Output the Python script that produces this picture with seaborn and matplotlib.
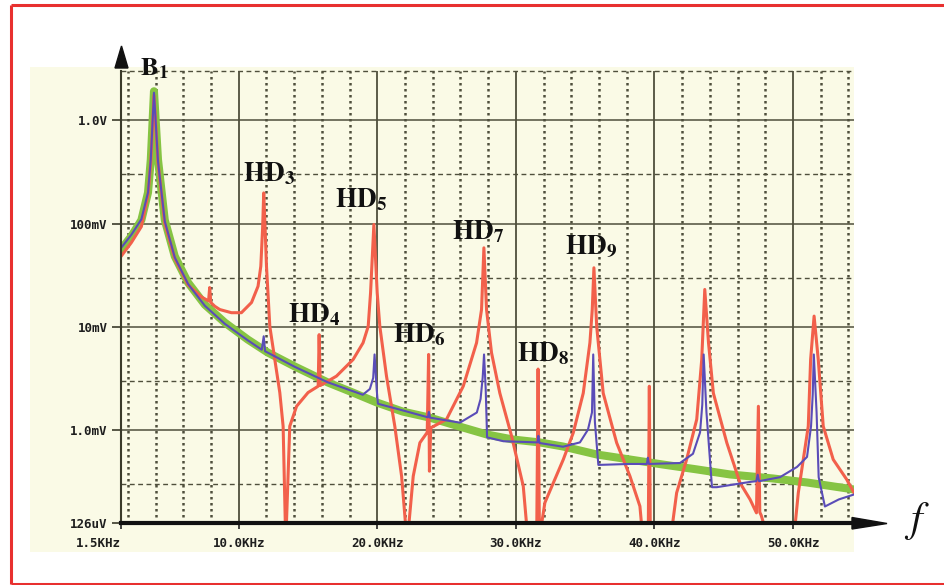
import matplotlib
matplotlib.use("Agg")
import matplotlib.pyplot as plt
import seaborn as sns
from matplotlib.patches import Rectangle, Polygon
from matplotlib.lines import Line2D
from matplotlib.ticker import NullLocator

# Spectrum (frequency in kHz, amplitude in V)
green_khz = [1.5, 2.25, 2.97, 3.45, 3.65, 3.88, 4.17, 4.66, 5.38, 6.34, 7.55, 8.99,
             10.65, 12.09, 14.04, 16.43, 18.23, 19.96, 21.84, 23.79, 25.96, 27.91,
             29.78, 31.73, 33.39, 35.85, 38.23, 40.61, 43.07, 45.45, 48.56, 51.01, 54.4]
green_v = [0.056, 0.0754, 0.108, 0.20, 0.417, 1.91, 0.417, 0.108, 0.0482, 0.0268,
           0.0164, 0.0110, 0.00753, 0.00564, 0.00413, 0.00289, 0.00231, 0.00185,
           0.00151, 0.00132, 0.00108, 0.000906, 0.000811, 0.000759, 0.000694,
           0.000580, 0.000519, 0.000464, 0.000416, 0.000372, 0.000340, 0.000311,
           0.000266]

blue_khz = [1.5, 2.25, 2.97, 3.45, 3.65, 3.88, 4.17, 4.66, 5.38, 6.34, 7.55, 8.99,
            10.65, 11.66, 11.8, 11.9, 14.04, 16.43, 18.95, 19.46, 19.7, 19.8, 19.95,
            20.04, 21.84, 23.65, 23.72, 23.8, 25.96, 27.18, 27.45, 27.6, 27.7, 27.82,
            27.92, 29.1, 31.55, 31.62, 31.7, 33.4, 34.62, 35.2, 35.49, 35.58, 35.7,
            35.95, 38.2, 39.45, 39.52, 39.6, 41.84, 42.78, 43.29, 43.45, 43.55, 43.75,
            44.15, 44.5, 46.9, 47.35, 47.45, 47.55, 49.06, 50.29, 51.01, 51.3, 51.42,
            51.5, 51.7, 51.85, 52.3, 53.3, 54.4]
blue_v = [0.058, 0.078, 0.11, 0.20, 0.42, 1.85, 0.40, 0.105, 0.047, 0.026, 0.016,
          0.0107, 0.0074, 0.0060, 0.0081, 0.0058, 0.0041, 0.0029, 0.0022, 0.0025,
          0.0032, 0.0054, 0.0025, 0.0018, 0.00155, 0.00133, 0.0015, 0.00132, 0.00118,
          0.00148, 0.0020, 0.0032, 0.0054, 0.0025, 0.00085, 0.00078, 0.00076, 0.00088,
          0.00075, 0.00069, 0.00076, 0.00101, 0.00148, 0.0054, 0.0012, 0.00046,
          0.00047, 0.00047, 0.00054, 0.00047, 0.00048, 0.00059, 0.00095, 0.00176,
          0.0054, 0.0015, 0.00028, 0.00028, 0.000315, 0.00032, 0.00037, 0.00032,
          0.00035, 0.00044, 0.00055, 0.00109, 0.0022, 0.0054, 0.00148, 0.00035,
          0.000182, 0.000213, 0.000238]

red_khz = [1.5, 2.25, 2.97, 3.45, 3.65, 3.88, 4.17, 4.66, 5.38, 6.34, 7.3, 7.82, 7.9,
           7.98, 8.27, 8.63, 9.47, 10.19, 10.92, 11.39, 11.59, 11.72, 11.8, 11.9, 12.0,
           12.24, 12.6, 12.96, 13.2, 13.39, 13.68, 14.17, 15.0, 15.73, 15.8, 15.88,
           17.05, 18.25, 18.97, 19.34, 19.51, 19.75, 19.99, 20.18, 20.66, 21.26, 21.75,
           22.15, 22.59, 23.07, 23.6, 23.7, 23.76, 23.85, 24.99, 26.2, 27.16, 27.52,
           27.69, 27.88, 28.24, 28.84, 29.69, 30.53, 30.89, 31.5, 31.6, 31.7, 32.09,
           33.42, 34.14, 34.86, 35.34, 35.51, 35.63, 35.83, 36.3, 37.27, 38.23, 38.95,
           39.19, 39.55, 39.63, 39.7, 41.12, 41.6, 42.32, 43.05, 43.41, 43.63, 43.9,
           44.25, 45.22, 46.17, 46.9, 47.36, 47.5, 47.6, 47.7, 48.3, 50.02, 50.38,
           50.74, 51.1, 51.27, 51.52, 51.82, 52.18, 52.9, 53.87, 54.4]
red_v = [0.048, 0.0655, 0.0935, 0.19, 0.40, 1.75, 0.39, 0.10, 0.046, 0.0255, 0.0195,
         0.0178, 0.024, 0.0172, 0.0158, 0.0147, 0.0137, 0.0137, 0.0172, 0.0247, 0.0386,
         0.09, 0.198, 0.09, 0.0386, 0.0101, 0.00482, 0.00231, 0.00109, 0.00008,
         0.00109, 0.0017, 0.00231, 0.00266, 0.0084, 0.0027, 0.00333, 0.00482, 0.0070,
         0.0101, 0.0213, 0.098, 0.0213, 0.0101, 0.00333, 0.00109, 0.000358, 0.00008,
         0.000358, 0.000754, 0.00095, 0.0054, 0.0004, 0.00105, 0.00127, 0.00266,
         0.0070, 0.0147, 0.0582, 0.0147, 0.00561, 0.00228, 0.000873, 0.000287,
         0.00008, 0.00009, 0.0039, 0.00009, 0.000198, 0.000519, 0.000942, 0.00228,
         0.0070, 0.0147, 0.0373, 0.0101, 0.00228, 0.000754, 0.000358, 0.000183,
         0.00008, 0.00009, 0.00266, 0.00009, 0.00008, 0.000247, 0.000519, 0.00127,
         0.00482, 0.023, 0.0070, 0.00228, 0.000754, 0.000309, 0.000213, 0.000158,
         0.0017, 0.00016, 0.00015, 0.00008, 0.00008, 0.000247, 0.000519, 0.00109,
         0.00482, 0.0127, 0.00482, 0.00109, 0.000519, 0.000333, 0.000247]

x_ticks = [1.5, 10, 20, 30, 40, 50]
x_tick_labels = ["1.5KHz", "10.0KHz", "20.0KHz", "30.0KHz", "40.0KHz", "50.0KHz"]
y_ticks = [1.0, 0.1, 0.01, 0.001, 126e-6]
y_tick_labels = ["1.0V", "100mV", "10mV", "1.0mV", "126uV"]

sns.set_style("white")
plt.rcParams["mathtext.fontset"] = "stix"

W, H = 945, 585


def P(x, y):
    # pixel position (from top-left) -> figure fraction
    return (x / W, 1 - y / H)


fig = plt.figure(figsize=(W / 100, H / 100), dpi=100)
fig.patch.set_facecolor("white")
fig.patches.append(Rectangle((30 / W, 33 / H), 824 / W, 485 / H, transform=fig.transFigure,
                             facecolor="#fafae6", edgecolor="none", zorder=-10))

# red frame (open on the right, as in the source picture)
frame_col = "#e8302f"
for xs, ys in [((11, 11), (4.5, 584)), ((11, 945), (4.5, 4.5)), ((11, 945), (583.5, 583.5))]:
    fig.lines.append(Line2D([xs[0] / W, xs[1] / W], [1 - ys[0] / H, 1 - ys[1] / H],
                            transform=fig.transFigure, color=frame_col, lw=2.2,
                            solid_capstyle="butt"))

ax = fig.add_axes([121 / W, 62 / H, 733 / W, 452 / H])
ax.set_facecolor("#fafae6")

# grid
grid_col = "#4f4f3c"
for v in [1.0, 0.1, 0.01, 0.001]:
    ax.axhline(v, color=grid_col, lw=1.1, zorder=1)
for v in [3.0, 0.3, 0.03, 0.003, 0.0003]:
    ax.axhline(v, color=grid_col, lw=1.0, ls=(0, (3.5, 2.5)), zorder=1, clip_on=False)
for k in range(2, 56, 2):
    if k % 10 == 0:
        ax.axvline(k, color=grid_col, lw=1.3, zorder=1)
    else:
        ax.axvline(k, color=grid_col, lw=1.8, ls=(0, (1, 1.4)), zorder=1)

sns.lineplot(x=green_khz, y=green_v, ax=ax, color="#86c443", lw=5.8, sort=False,
             estimator=None, zorder=2)
sns.lineplot(x=red_khz, y=red_v, ax=ax, color="#f2604b", lw=2.2, sort=False,
             estimator=None, zorder=3)
sns.lineplot(x=blue_khz, y=blue_v, ax=ax, color="#5a4cb8", lw=1.5, sort=False,
             estimator=None, zorder=4)

ax.set_yscale("log")
ax.set_xlim(1.5, 54.4)
ax.set_ylim(126e-6, 3.0)
ax.set_xticks(x_ticks, x_tick_labels)
ax.set_yticks(y_ticks, y_tick_labels)
ax.yaxis.set_minor_locator(NullLocator())
ax.xaxis.set_minor_locator(NullLocator())
ax.set_xlabel("")
ax.set_ylabel("")

for lbl in ax.get_xticklabels() + ax.get_yticklabels():
    lbl.set_fontfamily("DejaVu Sans Mono")
    lbl.set_fontweight("bold")
    lbl.set_fontsize(9)
    lbl.set_color("#1e1e1e")
ax.get_xticklabels()[0].set_ha("right")

ax.tick_params(axis="x", length=4, width=1.2, pad=6, color="#222222", bottom=True)
ax.tick_params(axis="y", length=6.5, width=1.2, pad=3, color="#3a3a2a", left=True)

for s in ["top", "right"]:
    ax.spines[s].set_visible(False)
ax.spines["left"].set_color("#3a3a2a")
ax.spines["left"].set_linewidth(1.5)
ax.spines["bottom"].set_color("#111111")
ax.spines["bottom"].set_linewidth(3)
ax.spines["left"].set_zorder(5)
ax.spines["bottom"].set_zorder(5)

# axis arrows
fig.patches.append(Polygon([P(115, 68), P(128, 68), P(121.5, 46)], closed=True,
                           transform=fig.transFigure, color="#111111"))
fig.patches.append(Polygon([P(852, 517.5), P(887, 523.5), P(852, 529)], closed=True,
                           transform=fig.transFigure, color="#111111"))

# annotations
fig.text(*P(140, 75), r"$\mathbf{B_1}$", size=19, ha="left", va="baseline", color="#111111")
fig.text(*P(916, 521), "f", family="STIXGeneral", style="italic", size=30,
         ha="center", va="center", color="#111111")

hd_labels = [
    (10.29, 0.255, r"$\mathbf{HD_3}$"),
    (16.93, 0.143, r"$\mathbf{HD_5}$"),
    (13.54, 0.011, r"$\mathbf{HD_4}$"),
    (21.12, 0.00705, r"$\mathbf{HD_6}$"),
    (25.38, 0.070, r"$\mathbf{HD_7}$"),
    (30.07, 0.00461, r"$\mathbf{HD_8}$"),
    (33.54, 0.0501, r"$\mathbf{HD_9}$"),
]
for fx, fy, txt in hd_labels:
    ax.text(fx, fy, txt, size=19.5, ha="left", va="baseline", color="#111111", zorder=6)

plt.savefig("out.png", dpi=100)
plt.close()
